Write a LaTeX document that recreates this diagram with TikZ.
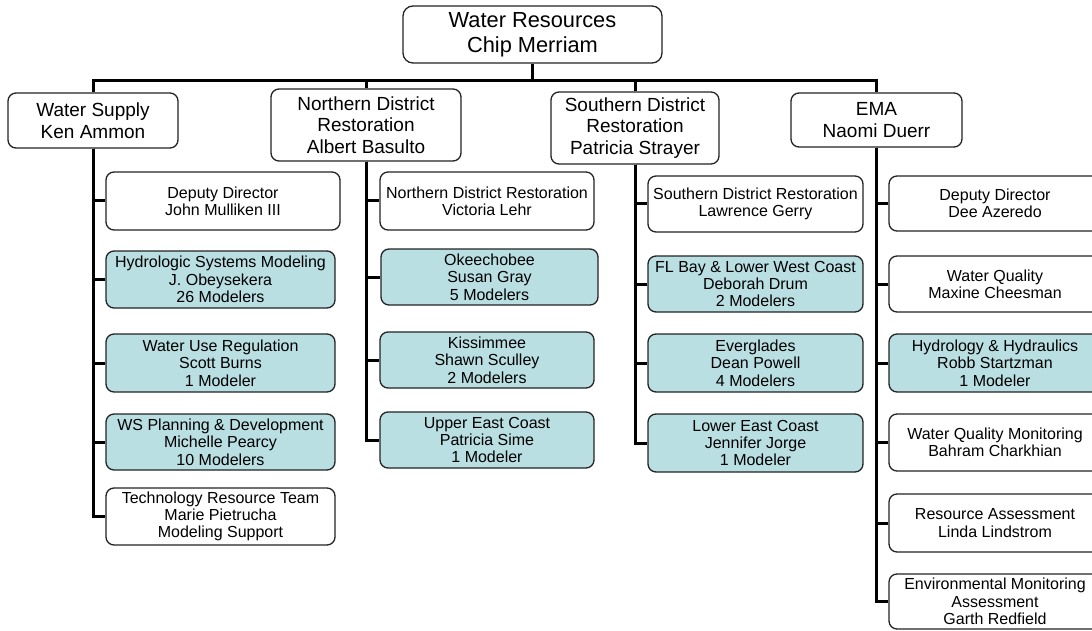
\documentclass[tikz,border=0pt]{standalone}
\usepackage{fontspec}
\setmainfont{Liberation Sans}
\definecolor{mblue}{RGB}{185,223,227}
\definecolor{edge}{RGB}{35,35,35}
\begin{document}
\begin{tikzpicture}[x=1pt,y=-1pt,
  box/.style={draw=edge, line width=1.3pt, rounded corners=8pt, inner sep=0pt, align=center, anchor=center, fill=white},
  sz/.style 2 args={minimum width=#1pt, minimum height=#2pt},
  lvlzero/.style={box, rounded corners=10pt, font=\fontsize{21.8}{25}\selectfont},
  lvlone/.style={box, font=\fontsize{19}{21.5}\selectfont},
  lvltwo/.style={box, font=\fontsize{16}{17.3}\selectfont},
  modeler/.style={fill=mblue},
  link/.style={line width=3pt, black}]
\useasboundingbox (0,0) rectangle (1092,631);

% root
\node[lvlzero, sz={259}{57}] (root) at (532.5,34.5) {Water Resources\\Chip Merriam};

% level one
\node[lvlone, sz={170}{55}] (ws)  at (93,120.5)  {Water Supply\\Ken Ammon};
\node[lvlone, sz={190}{72}] (nd)  at (366,125)   {Northern District\\Restoration\\Albert Basulto};
\node[lvlone, sz={168}{72}] (sd)  at (635,128)   {Southern District\\Restoration\\Patricia Strayer};
\node[lvlone, sz={171}{54}] (ema) at (876.5,120) {EMA\\Naomi Duerr};

% Water Supply children
\node[lvltwo, sz={234}{58}] (wsdd) at (223,201)   {Deputy Director\\John Mulliken III};
\node[lvltwo, modeler, sz={229}{57}] (hsm) at (220.5,279.5) {Hydrologic Systems Modeling\\J. Obeysekera\\26 Modelers};
\node[lvltwo, modeler, sz={229}{58}] (wur) at (220.5,363) {Water Use Regulation\\Scott Burns\\1 Modeler};
\node[lvltwo, modeler, sz={229}{56}] (wsp) at (220.5,442) {WS Planning \& Development\\Michelle Pearcy\\10 Modelers};
\node[lvltwo, sz={229}{57}] (trt) at (220.5,516.5) {Technology Resource Team\\Marie Pietrucha\\Modeling Support};

% Northern District children
\node[lvltwo, sz={214}{58}] (ndr) at (487,201) {Northern District Restoration\\Victoria Lehr};
\node[lvltwo, modeler, sz={217}{56}] (oke) at (489.5,277) {Okeechobee\\Susan Gray\\5 Modelers};
\node[lvltwo, modeler, sz={214}{56}] (kis) at (487,360) {Kissimmee\\Shawn Sculley\\2 Modelers};
\node[lvltwo, modeler, sz={214}{56}] (uec) at (487,440) {Upper East Coast\\Patricia Sime\\1 Modeler};

% Southern District children
\node[lvltwo, sz={215}{56}] (sdr) at (755.5,204) {Southern District Restoration\\Lawrence Gerry};
\node[lvltwo, modeler, sz={215}{56}] (flb) at (755.5,284) {FL Bay \& Lower West Coast\\Deborah Drum\\2 Modelers};
\node[lvltwo, modeler, sz={215}{58}] (evg) at (755.5,363) {Everglades\\Dean Powell\\4 Modelers};
\node[lvltwo, modeler, sz={215}{58}] (lec) at (755.5,443) {Lower East Coast\\Jennifer Jorge\\1 Modeler};

% EMA children
\node[lvltwo, sz={212}{55}] (edd) at (995,203.5) {Deputy Director\\Dee Azeredo};
\node[lvltwo, sz={212}{56}] (wq)  at (995,284)   {Water Quality\\Maxine Cheesman};
\node[lvltwo, modeler, sz={212}{58}] (hh) at (995,363) {Hydrology \& Hydraulics\\Robb Startzman\\1 Modeler};
\node[lvltwo, sz={212}{57}] (wqm) at (995,442.5) {Water Quality Monitoring\\Bahram Charkhian};
\node[lvltwo, sz={212}{58}] (ra)  at (995,523)   {Resource Assessment\\Linda Lindstrom};
\node[lvltwo, sz={212}{55}] (env) at (995,601.5) {Environmental Monitoring\\Assessment\\Garth Redfield};

% bus
\draw[link] (root.south) -- ++(0,17) coordinate (busc);
\foreach \n in {ws,nd,sd,ema} \draw[link] (busc) -| (\n.north);

% branches
\foreach \c in {wsdd,hsm,wur,wsp,trt} \draw[link] (ws.south) |- (\c.west);
\foreach \c in {ndr,oke,kis,uec} \draw[link] (nd.south) |- (\c.west);
\foreach \c in {sdr,flb,evg,lec} \draw[link] (sd.south) |- (\c.west);
\foreach \c in {edd,wq,hh,wqm,ra,env} \draw[link] (ema.south) |- (\c.west);
\end{tikzpicture}
\end{document}
